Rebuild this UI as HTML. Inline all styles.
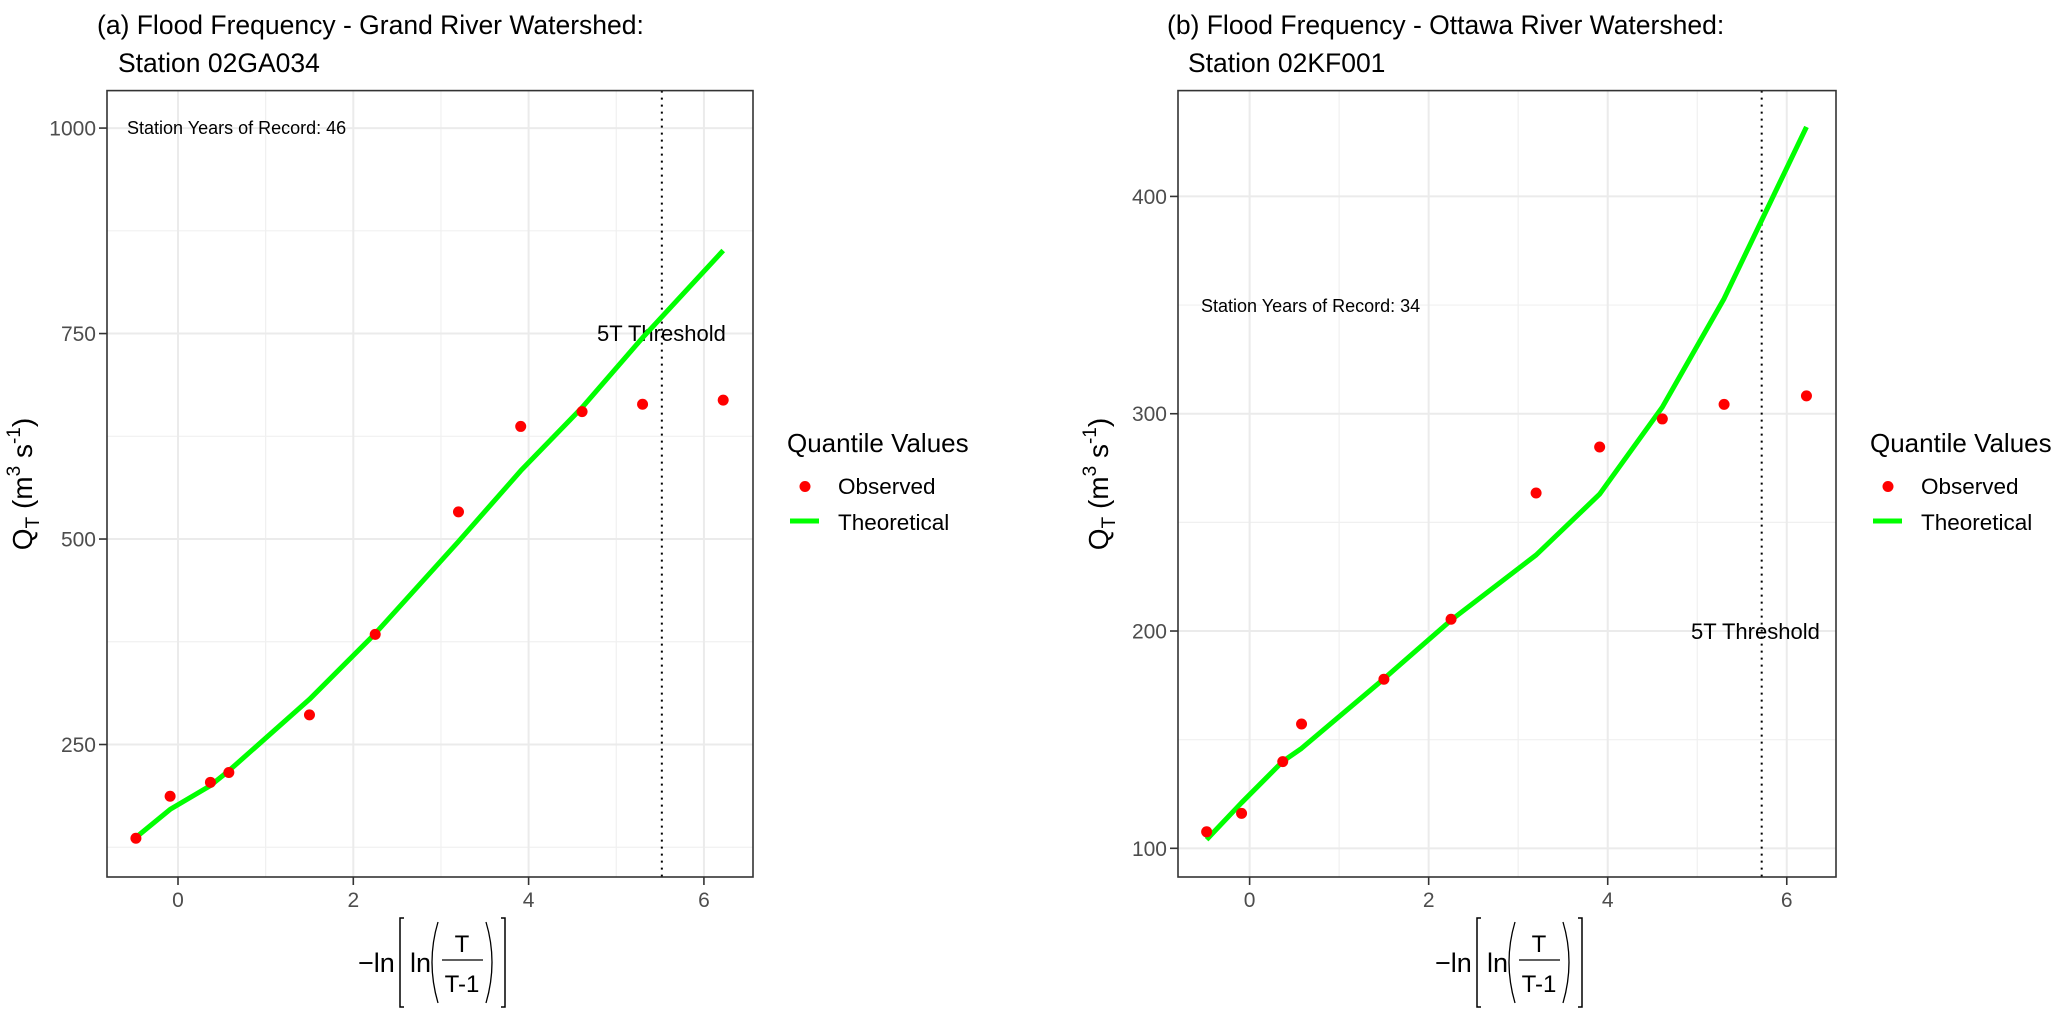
<!DOCTYPE html>
<html><head><meta charset="utf-8">
<style>
html,body{margin:0;padding:0;background:#fff;}
svg{display:block;font-family:"Liberation Sans",Arial,sans-serif;}
</style></head>
<body>
<svg id="chart" width="2067" height="1015" viewBox="0 0 2067 1015" xmlns="http://www.w3.org/2000/svg"></svg>
<script>
// ---- Data ----
const xValues = [-0.48, -0.09, 0.37, 0.58, 1.50, 2.25, 3.20, 3.91, 4.61, 5.30, 6.22];
const grandObserved = [136, 187, 204, 216, 286, 384, 533, 637, 655, 664, 669];
const grandTheoretical = [137, 171, 200, 218, 305, 385, 497, 583, 660, 745, 851];
const ottawaObserved = [107.6, 116.1, 139.9, 157.2, 177.8, 205.4, 263.5, 284.7, 297.6, 304.3, 308.2];
const ottawaTheoretical = [104, 121, 140, 146, 178, 205, 235, 263, 303, 353, 432];
const xTicks = [0, 2, 4, 6];
const grandYTicks = [250, 500, 750, 1000];
const ottawaYTicks = [100, 200, 300, 400];
const grandThreshold = 5.52;
const ottawaThreshold = 5.72;
const grandYears = 46;
const ottawaYears = 34;

const NS = "http://www.w3.org/2000/svg";
const svg = document.getElementById("chart");
function mk(tag, attrs, parent) {
  const e = document.createElementNS(NS, tag);
  for (const k in attrs) e.setAttribute(k, attrs[k]);
  (parent || svg).appendChild(e);
  return e;
}

function panel(cfg) {
  const g = mk("g", {});
  
  
  const L = cfg.left, R = cfg.right, T = 90.6, B = 877;
  const xs = v => L + (v - cfg.xmin) / (cfg.xmax - cfg.xmin) * (R - L);
  const ys = v => B - (v - cfg.ymin) / (cfg.ymax - cfg.ymin) * (B - T);

  const t1 = mk("text", {x: cfg.titleX, y: 34, "font-size": 26.5, fill: "#000"}, g);
  t1.textContent = cfg.title1;
  
  
  const t2 = mk("text", {x: cfg.titleX + 21, y: 72, "font-size": 26.5, fill: "#000"}, g);
  t2.textContent = cfg.title2;
  
  

  for (let v = Math.ceil(cfg.xmin); v <= cfg.xmax; v++) {
    if (v % 2 !== 0) { const l = mk("line", {x1: xs(v), x2: xs(v), y1: T, y2: B, stroke: "#f0f0f0", "stroke-width": 1.2}, g);
        }
  }
  for (let i = 0; i < cfg.yTicks.length + 1; i++) {
    const step = cfg.yTicks[1] - cfg.yTicks[0];
    const v = cfg.yTicks[0] - step / 2 + i * step;
    if (v > cfg.ymin && v < cfg.ymax) { const l = mk("line", {x1: L, x2: R, y1: ys(v), y2: ys(v), stroke: "#f0f0f0", "stroke-width": 1.2}, g);
        }
  }
  xTicks.forEach(v => {
    const l = mk("line", {x1: xs(v), x2: xs(v), y1: T, y2: B, stroke: "#ebebeb", "stroke-width": 2}, g);
     
    const tk = mk("line", {x1: xs(v), x2: xs(v), y1: B, y2: B + 8, stroke: "#333", "stroke-width": 1.6}, g);
     
    const tx = mk("text", {x: xs(v), y: B + 30, "font-size": 21, fill: "#4d4d4d", "text-anchor": "middle"}, g);
    tx.textContent = v;
     
  });
  cfg.yTicks.forEach(v => {
    const l = mk("line", {x1: L, x2: R, y1: ys(v), y2: ys(v), stroke: "#ebebeb", "stroke-width": 2}, g);
     
    const tk = mk("line", {x1: L - 8, x2: L, y1: ys(v), y2: ys(v), stroke: "#333", "stroke-width": 1.6}, g);
     
    const tx = mk("text", {x: L - 11, y: ys(v) + 7.5, "font-size": 21, fill: "#4d4d4d", "text-anchor": "end"}, g);
    tx.textContent = v;
     
  });

  const th = mk("line", {x1: xs(cfg.threshold), x2: xs(cfg.threshold), y1: T, y2: B, stroke: "#000", "stroke-width": 2, "stroke-dasharray": "2 5"}, g);
   
  const tht = mk("text", {x: cfg.threshTextX, y: cfg.threshTextY, "font-size": 22, fill: "#000"}, g);
  tht.textContent = "5T Threshold";
   

  const yr = mk("text", {x: cfg.yearsX, y: cfg.yearsY, "font-size": 18, fill: "#000"}, g);
  yr.textContent = "Station Years of Record: " + cfg.years;
   

  const pts = xValues.map((x, i) => xs(x).toFixed(1) + "," + ys(cfg.theo[i]).toFixed(1)).join(" ");
  const pl = mk("polyline", {points: pts, fill: "none", stroke: "#00ff00", "stroke-width": 5, "stroke-linejoin": "round"}, g);
   

  xValues.forEach((x, i) => {
    const c = mk("circle", {cx: xs(x), cy: ys(cfg.obs[i]), r: 5.5, fill: "#ff0000"}, g);
     
  });

  const bd = mk("rect", {x: L, y: T, width: R - L, height: B - T, fill: "none", stroke: "#333", "stroke-width": 1.6}, g);
   

  const yt = mk("text", {x: 0, y: 0, "font-size": 28, fill: "#000", "text-anchor": "middle", transform: "translate(" + cfg.yTitleX + ",484) rotate(-90)"}, g);
  yt.innerHTML = 'Q<tspan font-size="19" dy="7">T</tspan><tspan dy="-7"> (m</tspan><tspan font-size="19" dy="-12">3</tspan><tspan dy="12"> s</tspan><tspan font-size="19" dy="-12">-1</tspan><tspan dy="12">)</tspan>';
   

  const cx = (L + R) / 2;
  const xg = mk("g", {transform: "translate(" + (cx - 72) + ",0)"}, g);
   
  const a = mk("text", {x: 0, y: 972, "font-size": 27, fill: "#000"}, xg); a.textContent = "\u2212ln";
  mk("path", {d: "M46,918 H42 V1007 H46", fill: "none", stroke: "#000", "stroke-width": 1.5}, xg);
  const b = mk("text", {x: 52, y: 972, "font-size": 27, fill: "#000"}, xg); b.textContent = "ln";
  mk("path", {d: "M80,922 Q68,962 80,1003", fill: "none", stroke: "#000", "stroke-width": 1.3}, xg);
  const n = mk("text", {x: 104, y: 952, "font-size": 24, fill: "#000", "text-anchor": "middle"}, xg); n.textContent = "T";
  mk("line", {x1: 84, x2: 125, y1: 960, y2: 960, stroke: "#000", "stroke-width": 1.3}, xg);
  const d = mk("text", {x: 104, y: 992, "font-size": 24, fill: "#000", "text-anchor": "middle"}, xg); d.textContent = "T-1";
  mk("path", {d: "M128,922 Q140,962 128,1003", fill: "none", stroke: "#000", "stroke-width": 1.3}, xg);
  mk("path", {d: "M143,918 H147 V1007 H143", fill: "none", stroke: "#000", "stroke-width": 1.5}, xg);

  const lx = R + 34;
  const lg = mk("g", {}, g);
   
  const lt = mk("text", {x: lx, y: 452, "font-size": 26, fill: "#000"}, lg); lt.textContent = "Quantile Values";
   
  const e1 = mk("g", {}, lg);
   
  mk("circle", {cx: lx + 18, cy: 486.5, r: 5.5, fill: "#ff0000"}, e1);
  const o = mk("text", {x: lx + 51, y: 494, "font-size": 22.5, fill: "#000"}, e1); o.textContent = "Observed";
  const e2 = mk("g", {}, lg);
   
  mk("line", {x1: lx + 3, x2: lx + 32, y1: 521, y2: 521, stroke: "#00ff00", "stroke-width": 5}, e2);
  const th2 = mk("text", {x: lx + 51, y: 530, "font-size": 22.5, fill: "#000"}, e2); th2.textContent = "Theoretical";
}

panel({name: "panel-grand-river", left: 107, right: 753, xmin: -0.81, xmax: 6.56,
  ymin: 88.8, ymax: 1045.6, yTicks: grandYTicks, obs: grandObserved, theo: grandTheoretical,
  threshold: grandThreshold, threshTextX: 597, threshTextY: 341, years: grandYears, yearsX: 127, yearsY: 134,
  titleX: 97, title1: "(a) Flood Frequency - Grand River Watershed:", title2: "Station 02GA034", yTitleX: 32});
panel({name: "panel-ottawa-river", left: 1178, right: 1836, xmin: -0.80, xmax: 6.55,
  ymin: 86.8, ymax: 448.7, yTicks: ottawaYTicks, obs: ottawaObserved, theo: ottawaTheoretical,
  threshold: ottawaThreshold, threshTextX: 1691, threshTextY: 639, years: ottawaYears, yearsX: 1201, yearsY: 312,
  titleX: 1167, title1: "(b) Flood Frequency - Ottawa River Watershed:", title2: "Station 02KF001", yTitleX: 1108});
</script>
</body></html>
